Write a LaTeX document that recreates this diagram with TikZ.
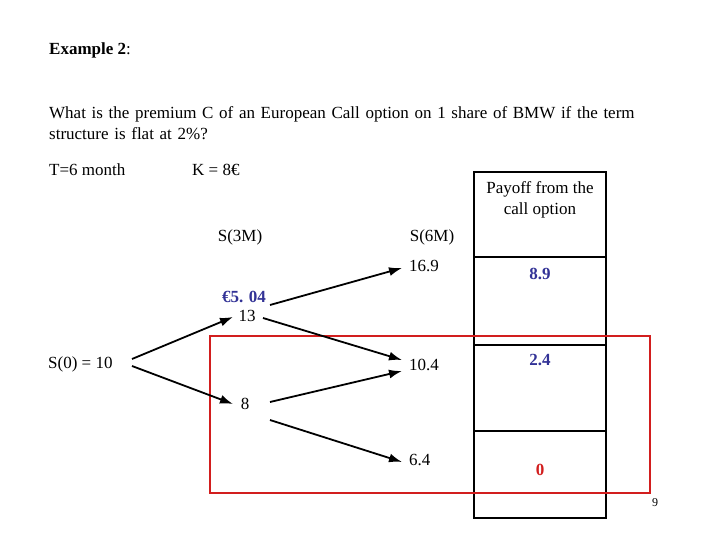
\documentclass[tikz,border=0pt]{standalone}
\usepackage{fontspec}
\setmainfont{Liberation Serif}
\usetikzlibrary{arrows.meta}
\definecolor{navy}{RGB}{50,50,150}
\definecolor{redb}{RGB}{210,30,30}
\begin{document}
\begin{tikzpicture}[x=1pt,y=-1pt,
  txt/.style={inner sep=0pt,font=\fontsize{17}{21}\selectfont},
  blu/.style={txt,text=navy,font=\fontsize{17}{21}\selectfont\bfseries},
  arr/.style={-{Latex[length=13pt,width=9pt]},line width=1.8pt}]
\useasboundingbox (0,0) rectangle (720,540);
\node[txt,anchor=west] (title) at (49,50) {\textbf{Example 2}:};
\node[txt,anchor=north west,text width=610pt] (q) at (49,106) {\raggedright What is the premium C of an European Call option on 1 share of BMW if the term\\ structure is flat at 2\%?};
\node[txt,anchor=west] (T) at (49,170) {T=6 month};
\node[txt,anchor=west] (K) at (192,170) {K = 8€};
\draw[line width=2.2pt] (474,172) rectangle (606,518);
\foreach \y in {257,345,431} \draw[line width=1.6pt] (474,\y) -- (606,\y);
\node[txt,align=center] (pay) at (540,200) {Payoff from the\\call option};
\node[txt] (s3) at (240,237) {S(3M)};
\node[txt] (s6) at (432,237) {S(6M)};
\node[txt,anchor=west] (n169) at (409,266) {16.9};
\node[blu] (p89) at (540,274) {8.9};
\node[blu] (c504) at (244,297) {€5. 04};
\node[txt] (n13) at (247,316) {13};
\node[txt,anchor=west] (s0) at (48,364) {S(0) = 10};
\node[txt,anchor=west] (n104) at (409,365) {10.4};
\node[blu] (p24) at (540,360) {2.4};
\node[txt] (n8) at (245,404) {8};
\node[txt,anchor=west] (n64) at (409,460) {6.4};
\node[txt,text=redb,font=\fontsize{17}{21}\selectfont\bfseries] (p0) at (540,470) {0};
\node[inner sep=0pt,font=\fontsize{12}{14}\selectfont] (pg) at (655,503) {9};
\draw[redb,line width=2.6pt] (210,336) rectangle (650,493);
\coordinate (a1) at (132,359); \coordinate (a2) at (233,317);
\coordinate (b1) at (132,366); \coordinate (b2) at (233,404);
\coordinate (c1) at (270,305); \coordinate (c2) at (402,268);
\coordinate (d1) at (263,318); \coordinate (d2) at (402,360);
\coordinate (e1) at (270,402); \coordinate (e2) at (402,371);
\coordinate (f1) at (270,420); \coordinate (f2) at (402,462);
\draw[arr] (a1) -- (a2);
\draw[arr] (b1) -- (b2);
\draw[arr] (c1) -- (c2);
\draw[arr] (d1) -- (d2);
\draw[arr] (e1) -- (e2);
\draw[arr] (f1) -- (f2);
\end{tikzpicture}
\end{document}
